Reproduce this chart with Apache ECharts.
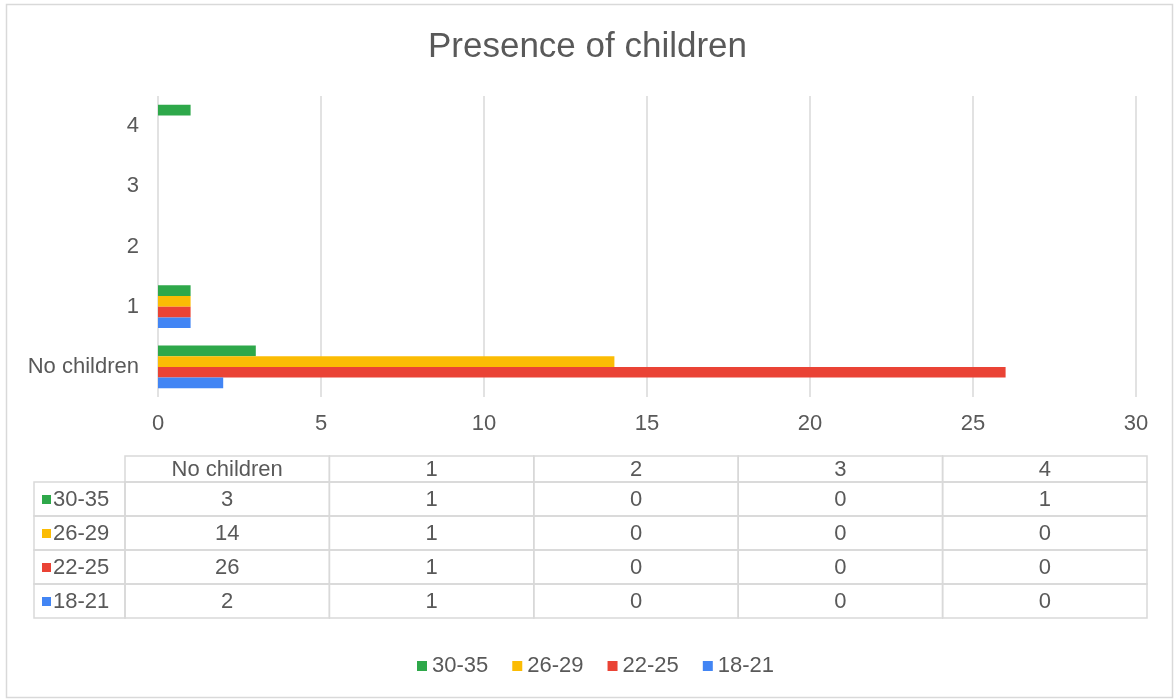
<!DOCTYPE html>
<html>
<head>
<meta charset="utf-8">
<script src="https://cdn.jsdelivr.net/npm/echarts@6/dist/echarts.min.js"></script>
<style>
  html, body { margin: 0; padding: 0; background: #fff; }
  #chart { width: 1175px; height: 700px; }
</style>
</head>
<body>
<div id="chart"></div>
<script>
// Number of respondents by number of children, split by age group
const categories = ['No children', '1', '2', '3', '4'];
const seriesNames = ['30-35', '26-29', '22-25', '18-21'];
const values3035 = [3, 1, 0, 0, 1];
const values2629 = [14, 1, 0, 0, 0];
const values2225 = [26, 1, 0, 0, 0];
const values1821 = [2, 1, 0, 0, 0];
const xTicks = [0, 5, 10, 15, 20, 25, 30];

const seriesValues = [values3035, values2629, values2225, values1821];
const colors = ['#2ea84a', '#fbbc04', '#ea4335', '#4285f4'];
const textColor = '#595959';
const lineColor = '#d9d9d9';
const font = '"Liberation Sans", Arial, sans-serif';
const labelSize = 22;

// Data table under the plot
const tableLeft = 34, labelColRight = 125, tableRight = 1147;
const headTop = 456, headH = 26, rowH = 34;
const colW = (tableRight - labelColRight) / categories.length;
const tableEls = [];
function cell(x, y, w, h) {
  tableEls.push({ type: 'rect', shape: { x: x, y: y, width: w, height: h },
    style: { fill: 'none', stroke: lineColor, lineWidth: 1.5 }, silent: true });
}
function label(txt, x, y, align) {
  tableEls.push({ type: 'text', x: x, y: y, silent: true,
    style: { text: txt, fill: textColor, font: labelSize + 'px ' + font,
      textAlign: align || 'center', textVerticalAlign: 'middle' } });
}
categories.forEach((c, i) => {
  const x = labelColRight + i * colW;
  cell(x, headTop, colW, headH);
  label(c, x + colW / 2, headTop + headH / 2 + 1);
});
seriesNames.forEach((name, r) => {
  const y = headTop + headH + r * rowH;
  cell(tableLeft, y, labelColRight - tableLeft, rowH);
  tableEls.push({ type: 'rect', shape: { x: tableLeft + 8, y: y + rowH / 2 - 4, width: 9, height: 9 },
    style: { fill: colors[r] }, silent: true });
  label(name, tableLeft + 19, y + rowH / 2 + 1, 'left');
  seriesValues[r].forEach((v, i) => {
    const x = labelColRight + i * colW;
    cell(x, y, colW, rowH);
    label(String(v), x + colW / 2, y + rowH / 2 + 1);
  });
});
// Outer chart frame
tableEls.push({ type: 'rect', shape: { x: 6.5, y: 4.5, width: 1166, height: 693 },
  style: { fill: 'none', stroke: lineColor, lineWidth: 1.5 }, silent: true, z: -1 });

const chart = echarts.init(document.getElementById('chart'), null, { renderer: 'canvas' });
chart.setOption({
  animation: false,
  color: colors,
  textStyle: { fontFamily: font },
  title: {
    text: 'Presence of children',
    left: 'center',
    top: 25,
    textStyle: { fontSize: 35, fontWeight: 'normal', color: textColor, fontFamily: font }
  },
  legend: {
    data: seriesNames,
    left: 412,
    top: 650,
    icon: 'rect',
    itemWidth: 10,
    itemHeight: 10,
    itemGap: 24,
    textStyle: { fontSize: labelSize, color: textColor, fontFamily: font }
  },
  grid: { left: 158, right: 39, top: 96, bottom: 303, containLabel: false },
  xAxis: {
    type: 'value',
    min: xTicks[0],
    max: xTicks[xTicks.length - 1],
    interval: xTicks[1] - xTicks[0],
    axisLine: { show: false },
    axisTick: { show: false },
    axisLabel: { fontSize: labelSize, color: textColor, margin: 16, fontFamily: font },
    splitLine: { show: true, lineStyle: { color: lineColor, width: 1.5 } }
  },
  yAxis: {
    type: 'category',
    data: categories,
    axisLine: { show: false },
    axisTick: { show: false },
    axisLabel: { fontSize: labelSize, color: textColor, margin: 19, fontFamily: font }
  },
  series: seriesNames.map((name, i) => ({
    name: name,
    type: 'bar',
    data: seriesValues[i],
    barGap: 0,
    barCategoryGap: '29%',
    itemStyle: { color: colors[i] }
  })),
  graphic: tableEls
});
</script>
</body>
</html>
